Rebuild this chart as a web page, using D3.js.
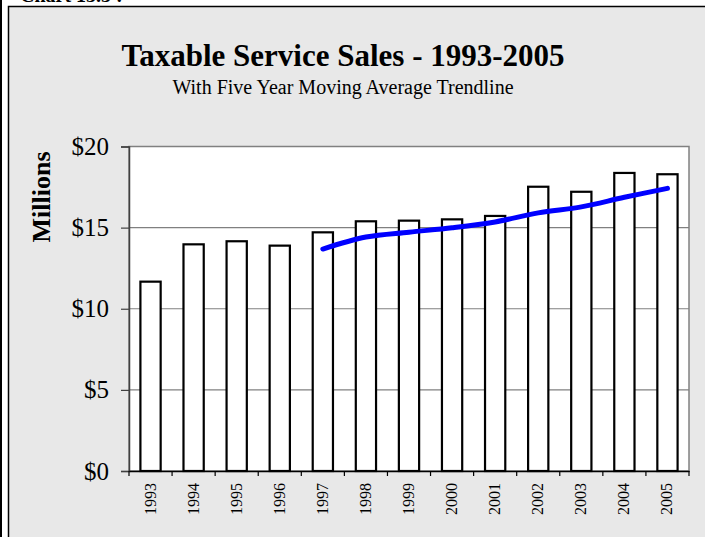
<!DOCTYPE html>
<html><head><meta charset="utf-8">
<script src="https://cdn.jsdelivr.net/npm/d3@7"></script>
<style>body{margin:0;background:#fff;} svg{display:block;font-family:"Liberation Serif","Times New Roman",serif;}</style>
</head><body>
<script>
const years = ["1993","1994","1995","1996","1997","1998","1999","2000","2001","2002","2003","2004","2005"];
const sales = [11.67,13.97,14.16,13.89,14.71,15.39,15.43,15.51,15.72,17.52,17.21,18.37,18.29];
const trendYears = ["1997","1998","1999","2000","2001","2002","2003","2004","2005"];
const trendValues = [13.68,14.42,14.72,14.99,15.35,15.91,16.28,16.87,17.42];
const yTicks = [0,5,10,15,20];

const W=705,H=537;
const svg=d3.select("body").append("svg").attr("width",W).attr("height",H);
// outer frame
svg.append("rect").attr("x",0).attr("y",0).attr("width",2).attr("height",H).attr("fill","#000");
svg.append("rect").attr("x",8.5).attr("y",6.5).attr("width",710).attr("height",560)
  .attr("fill","#e8e8e8").attr("stroke","#000").attr("stroke-width",1.5);
svg.append("text").attr("x",20).attr("y",2).attr("font-size",20).attr("font-weight","bold").text("Chart 13.3 :");

const m={l:129,r:689,t:146.5,b:471};
const x=d3.scaleBand().domain(years).range([m.l,m.r]);
const y=d3.scaleLinear().domain([0,20]).range([m.b,m.t]);

svg.append("rect").attr("x",m.l).attr("y",m.t).attr("width",m.r-m.l).attr("height",m.b-m.t)
  .attr("fill","#fff").attr("stroke","#808080").attr("stroke-width",1.5);

// gridlines
svg.append("g").selectAll("line").data(yTicks.filter(d=>d>0)).join("line")
  .attr("x1",m.l).attr("x2",m.r).attr("y1",d=>y(d)).attr("y2",d=>y(d))
  .attr("stroke","#808080").attr("stroke-width",1.2);

// bars
const bw=x.bandwidth()*0.47;
svg.append("g").selectAll("rect").data(years).join("rect")
  .attr("x",(d)=>x(d)+x.bandwidth()/2-bw/2).attr("width",bw)
  .attr("y",(d,i)=>y(sales[i])).attr("height",(d,i)=>y(0)-y(sales[i]))
  .attr("fill","#fff").attr("stroke","#000").attr("stroke-width",2.2);

// y axis
const ya=svg.append("g").attr("transform",`translate(${m.l},0)`)
  .call(d3.axisLeft(y).tickValues(yTicks).tickSize(8).tickPadding(12).tickFormat(d=>"$"+d));
ya.select(".domain").attr("stroke","#404040").attr("stroke-width",1.5);
ya.selectAll(".tick line").attr("stroke","#404040").attr("stroke-width",1.2);
ya.selectAll("text").attr("font-size",25).attr("font-family","Liberation Serif, Times New Roman, serif").attr("fill","#000");

// x axis
const xa=svg.append("g").attr("transform",`translate(0,${m.b})`)
  .call(d3.axisBottom(x).tickSize(0).tickFormat(""));
xa.select(".domain").attr("stroke","#000").attr("stroke-width",1.5);
const bounds=d3.range(years.length+1).map(i=>m.l+i*x.step());
svg.append("g").selectAll("line").data(bounds).join("line")
  .attr("x1",d=>d).attr("x2",d=>d).attr("y1",m.b).attr("y2",m.b+5)
  .attr("stroke","#000").attr("stroke-width",1.2);
svg.append("g").selectAll("text").data(years).join("text")
  .attr("transform",d=>`translate(${x(d)+x.bandwidth()/2+5},${m.b+12}) rotate(-90)`)
  .attr("text-anchor","end").attr("font-size",16).text(d=>d);

// trend line
const line=d3.line().x((d,i)=>x(trendYears[i])+x.bandwidth()/2).y(d=>y(d)).curve(d3.curveCatmullRom);
svg.append("path").datum(trendValues).attr("d",line).attr("fill","none")
  .attr("stroke","#0000ff").attr("stroke-width",5).attr("stroke-linecap","round");

// titles
svg.append("text").attr("x",343).attr("y",66).attr("text-anchor","middle")
  .attr("font-size",31).attr("font-weight","bold").text("Taxable Service Sales - 1993-2005");
svg.append("text").attr("x",343).attr("y",94).attr("text-anchor","middle")
  .attr("font-size",20).text("With Five Year Moving Average Trendline");
svg.append("text").attr("transform","translate(50,197) rotate(-90)").attr("text-anchor","middle")
  .attr("font-size",26).attr("font-weight","bold").text("Millions");
</script>
</body></html>
